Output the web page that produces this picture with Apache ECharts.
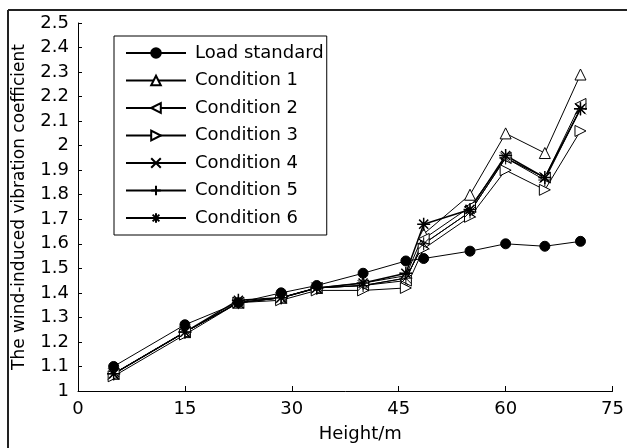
<!DOCTYPE html>
<html>
<head>
<meta charset="utf-8">
<script src="https://cdn.jsdelivr.net/npm/echarts@6/dist/echarts.min.js"></script>
<style>
  html, body { margin: 0; padding: 0; background: #fff; }
  #chart { width: 627px; height: 448px; }
</style>
</head>
<body>
<div id="chart"></div>
<script>
// heights (m)
const heights = [5, 15, 22.5, 28.5, 33.5, 40, 46, 48.5, 55, 60, 65.5, 70.5];

const loadStandard = [1.10, 1.27, 1.36, 1.40, 1.43, 1.48, 1.53, 1.54, 1.57, 1.60, 1.59, 1.61];
const condition1 = [1.07, 1.24, 1.36, 1.38, 1.42, 1.44, 1.47, 1.64, 1.80, 2.05, 1.97, 2.29];
const condition2 = [1.07, 1.24, 1.36, 1.38, 1.42, 1.43, 1.45, 1.62, 1.75, 1.95, 1.87, 2.17];
const condition3 = [1.06, 1.23, 1.36, 1.37, 1.41, 1.41, 1.42, 1.58, 1.71, 1.90, 1.82, 2.06];
const condition4 = [1.07, 1.24, 1.36, 1.38, 1.42, 1.43, 1.46, 1.60, 1.73, 1.95, 1.87, 2.15];
const condition5 = [1.07, 1.24, 1.36, 1.38, 1.42, 1.43, 1.46, 1.60, 1.73, 1.95, 1.86, 2.15];
const condition6 = [1.07, 1.24, 1.37, 1.38, 1.42, 1.44, 1.48, 1.68, 1.74, 1.96, 1.87, 2.15];

const seriesNames = ['Load standard', 'Condition 1', 'Condition 2', 'Condition 3',
  'Condition 4', 'Condition 5', 'Condition 6'];

const FONT = 'DejaVu Sans';

const symbolX = 'path://M0,0L10,10M10,0L0,10';
const symbolPlus = 'path://M5,0L5,10M0,5L10,5';
const symbolStar = 'path://M5,0L5,10M0,5L10,5M1.5,1.5L8.5,8.5M8.5,1.5L1.5,8.5';

function pairs(values) {
  return heights.map((h, i) => [h, values[i]]);
}

function makeSeries(name, values, symbol, extra) {
  return Object.assign({
    name: name,
    type: 'line',
    data: pairs(values),
    symbol: symbol,
    symbolSize: 11,
    symbolKeepAspect: true,
    lineStyle: { color: '#000', width: 1 },
    itemStyle: { color: '#fff', borderColor: '#000', borderWidth: 1 },
    emphasis: { disabled: true },
    animation: false,
  }, extra || {});
}

const chart = echarts.init(document.getElementById('chart'));

chart.setOption({
  backgroundColor: '#fff',
  animation: false,
  grid: { left: 78, right: 11, top: 23, bottom: 53 },
  legend: {
    data: seriesNames,
    orient: 'vertical',
    left: 114,
    top: 36,
    padding: [8, 3, 8, 11],
    itemWidth: 60,
    itemHeight: 12,
    itemGap: 9.5,
    backgroundColor: '#fff',
    borderColor: '#000',
    borderWidth: 1,
    borderRadius: 0,
    textStyle: { fontFamily: FONT, fontSize: 18, color: '#000', lineHeight: 18, padding: [0, 0, 0, 4] },
  },
  xAxis: {
    type: 'value',
    min: 0,
    max: 75,
    interval: 15,
    name: 'Height/m',
    nameLocation: 'middle',
    nameGap: 34,
    nameTextStyle: { fontFamily: FONT, fontSize: 18, color: '#000', padding: [0, 0, 0, 30] },
    axisLine: { show: true, lineStyle: { color: '#000', width: 1 } },
    axisTick: { show: true, inside: true, length: 5, lineStyle: { color: '#000' } },
    axisLabel: { fontFamily: FONT, fontSize: 18, color: '#000', margin: 9 },
    splitLine: { show: false },
  },
  yAxis: {
    type: 'value',
    min: 1,
    max: 2.5,
    interval: 0.1,
    name: 'The wind-induced vibration coefficient',
    nameLocation: 'middle',
    nameGap: 50,
    nameTextStyle: { fontFamily: FONT, fontSize: 17, color: '#000' },
    axisLine: { show: true, lineStyle: { color: '#000', width: 1 } },
    axisTick: { show: true, inside: true, length: 4, lineStyle: { color: '#000' } },
    axisLabel: {
      fontFamily: FONT, fontSize: 18, color: '#000', margin: 9,
      formatter: (v) => String(parseFloat(v.toFixed(1))),
    },
    splitLine: { show: false },
  },
  graphic: [
    { type: 'line', shape: { x1: 8, y1: 10, x2: 627, y2: 10 }, style: { stroke: '#222', lineWidth: 2 } },
    { type: 'line', shape: { x1: 8, y1: 10, x2: 8, y2: 448 }, style: { stroke: '#222', lineWidth: 2 } },
  ],
  series: [
    makeSeries('Condition 1', condition1, 'triangle'),
    makeSeries('Condition 2', condition2, 'triangle', { symbolRotate: 90 }),
    makeSeries('Condition 3', condition3, 'triangle', { symbolRotate: -90 }),
    makeSeries('Condition 4', condition4, symbolX, { symbolSize: 11 }),
    makeSeries('Condition 5', condition5, symbolPlus, { symbolSize: 13 }),
    makeSeries('Condition 6', condition6, symbolStar, {
      symbolSize: 13,
      lineStyle: { color: '#000', width: 1.5 },
      itemStyle: { color: '#fff', borderColor: '#000', borderWidth: 1.5 },
    }),
    makeSeries('Load standard', loadStandard, 'circle', {
      symbolSize: 10,
      z: 3,
      itemStyle: { color: '#000', borderColor: '#000', borderWidth: 1 },
    }),
  ],
});
</script>
</body>
</html>
